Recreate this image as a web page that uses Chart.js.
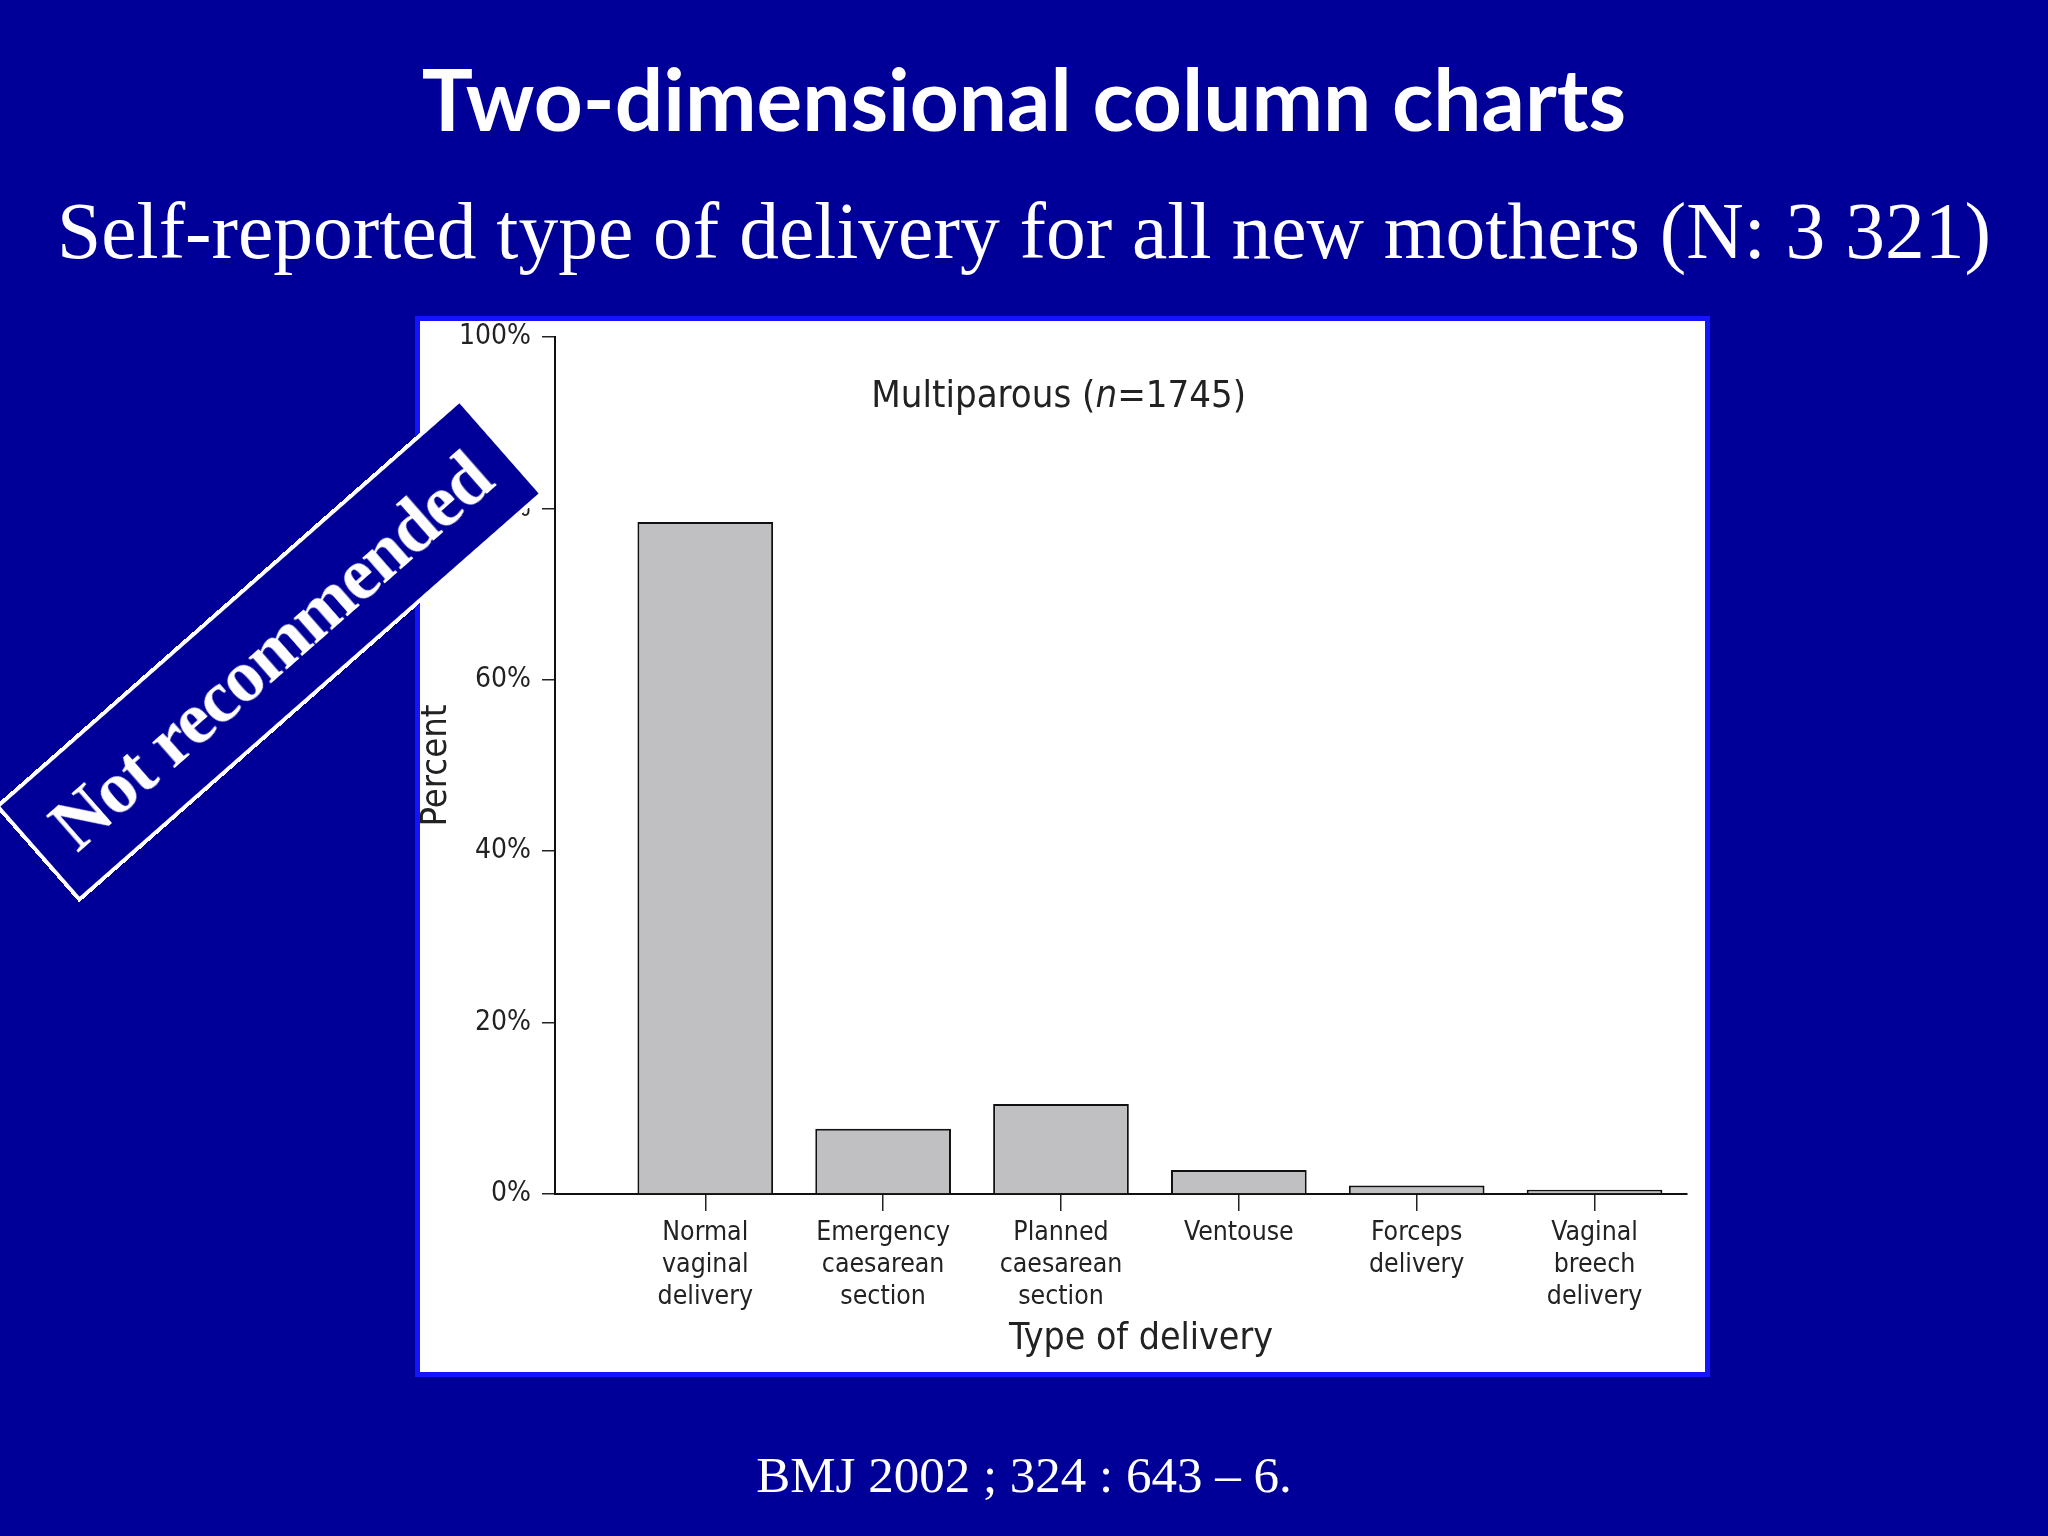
<!DOCTYPE html>
<html>
<head>
<meta charset="utf-8">
<title>Two-dimensional column charts</title>
<script src="https://cdn.jsdelivr.net/npm/chart.js@4.4.1/dist/chart.umd.min.js"></script>
<style>
    html, body { margin: 0; padding: 0; }
    body { width: 2048px; height: 1536px; background: #000099; position: relative; overflow: hidden; }
    .slide-text { position: absolute; left: 0; width: 2048px; text-align: center; color: #fff; white-space: nowrap; }
    #title    { top: 56px;   font: bold 85.5px Lato, "Open Sans", sans-serif; line-height: 85.5px; }
    #subtitle { top: 192px;  font: 79.5px "Liberation Serif", "DejaVu Serif", serif; line-height: 79.5px; }
    #source   { top: 1450px; font: 51px "Liberation Serif", "DejaVu Serif", serif; line-height: 51px; }
    #panel {
        position: absolute; left: 415px; top: 316px; width: 1295px; height: 1061px;
        box-sizing: border-box; border: 5px solid #1414ff; background: #fff;
    }
    #panel canvas { position: absolute; left: 0; top: 0; }
    #stamp {
        position: absolute; left: -40px; top: 586px; width: 619px; height: 128px;
        box-sizing: border-box; border: 4px solid #fff; background: #000099; color: #fff;
        font: bold 74px "Liberation Serif", "DejaVu Serif", serif; line-height: 122px;
        letter-spacing: -1.5px; text-align: center; white-space: nowrap; transform: rotate(-41.3deg);
    }
</style>
</head>
<body>
<div id="title" class="slide-text">Two-dimensional column charts</div>
<div id="subtitle" class="slide-text">Self-reported type of delivery for all new mothers (N: 3 321)</div>
<div id="panel"><canvas id="chart-delivery" width="1285" height="1051"></canvas></div>
<div id="stamp">Not recommended</div>
<div id="source" class="slide-text">BMJ 2002 ; 324 : 643 – 6.</div>

<script>
// Data (BMJ 2002), multiparous women
const categories = [
    ['Normal', 'vaginal', 'delivery'],
    ['Emergency', 'caesarean', 'section'],
    ['Planned', 'caesarean', 'section'],
    ['Ventouse'],
    ['Forceps', 'delivery'],
    ['Vaginal', 'breech', 'delivery']
];
const percentValues = [78.4, 7.6, 10.5, 2.8, 1.0, 0.5];
const yTickValues   = [0, 20, 40, 60, 80, 100];
const panelNote     = ['Multiparous (', 'n', '=1745)'];
const xAxisTitle    = 'Type of delivery';
const yAxisTitle    = 'Percent';

const inkColor   = '#222';
// the original uses a condensed sans
const narrowFont = '"DejaVu Sans Condensed", "Liberation Sans", sans-serif';
const measureCtx = document.createElement('canvas').getContext('2d');

// font size that gives the text the width it has in the figure
function fitSize(text, targetWidth) {
    measureCtx.font = '100px ' + narrowFont;
    return 100 * targetWidth / measureCtx.measureText(text).width;
}

const tickSize   = fitSize('Emergency', 134);
const yTickSize  = fitSize('60%', 56);
const xTitleSize = fitSize(xAxisTitle, 264);
const yTitleSize = fitSize(yAxisTitle, 122);
const noteSize   = fitSize(panelNote.join(''), 375);

// figure texts drawn on the plot: panel note and x-axis title
const textPlugin = {
    id: 'figureText',
    afterDraw(chart) {
        const { ctx, chartArea, scales } = chart;
        const normal = noteSize + 'px ' + narrowFont;
        const italic = 'italic ' + normal;

        ctx.save();
        ctx.fillStyle = inkColor;
        ctx.textBaseline = 'middle';
        ctx.textAlign = 'left';
        const widths = panelNote.map((part, i) => {
            ctx.font = i === 1 ? italic : normal;
            return ctx.measureText(part).width;
        });
        const total = widths.reduce((a, b) => a + b, 0);
        let x = chartArea.left + (chartArea.right - chartArea.left) * 0.445 - total / 2;
        const y = chartArea.top + 60;
        panelNote.forEach((part, i) => {
            ctx.font = i === 1 ? italic : normal;
            ctx.fillText(part, x, y);
            x += widths[i];
        });

        ctx.textAlign = 'center';
        ctx.font = xTitleSize + 'px ' + narrowFont;
        ctx.fillText(xAxisTitle, scales.x.getPixelForValue(3.45), chartArea.bottom + 145);
        ctx.restore();
    }
};

const ctx = document.getElementById('chart-delivery').getContext('2d');
new Chart(ctx, {
    type: 'bar',
    data: {
        datasets: [{
            label: 'Multiparous',
            data: percentValues.map((v, i) => ({ x: i + 1, y: v })),
            backgroundColor: '#c0c0c2',
            borderColor: '#111',
            borderWidth: 2,
            barPercentage: 0.763,
            categoryPercentage: 1
        }]
    },
    options: {
        responsive: false,
        animation: false,
        layout: { padding: { left: 0, top: 16, right: 18, bottom: 0 } },
        plugins: {
            legend: { display: false },
            tooltip: { enabled: false }
        },
        scales: {
            x: {
                type: 'linear',
                offset: false,
                min: 0.155,
                max: 6.52,
                afterBuildTicks: s => { s.ticks = categories.map((c, i) => ({ value: i + 1 })); },
                afterFit: s => { s.height = 178; },
                ticks: {
                    autoSkip: false,
                    maxRotation: 0,
                    minRotation: 0,
                    padding: 6,
                    color: inkColor,
                    font: { family: narrowFont, size: tickSize, lineHeight: 32 / tickSize },
                    callback: v => categories[v - 1]
                },
                grid: { drawOnChartArea: false, offset: false, tickLength: 17, color: inkColor, lineWidth: 1.5 },
                border: { color: '#111', width: 2 }
            },
            y: {
                min: 0,
                max: 100,
                afterBuildTicks: s => { s.ticks = yTickValues.map(v => ({ value: v })); },
                afterFit: s => { s.width = 135; s.paddingTop = 0; s.paddingBottom = 0; },
                ticks: {
                    padding: 11,
                    color: inkColor,
                    font: { family: narrowFont, size: yTickSize, lineHeight: 1.0 },
                    callback: v => v + '%'
                },
                grid: { drawOnChartArea: false, tickLength: 13, color: inkColor, lineWidth: 1.5 },
                border: { color: '#111', width: 2 },
                title: {
                    display: true,
                    text: yAxisTitle,
                    color: inkColor,
                    font: { family: narrowFont, size: yTitleSize, lineHeight: 0.9 },
                    padding: { top: 0, bottom: 0 }
                }
            }
        }
    },
    plugins: [textPlugin]
});
</script>
</body>
</html>
